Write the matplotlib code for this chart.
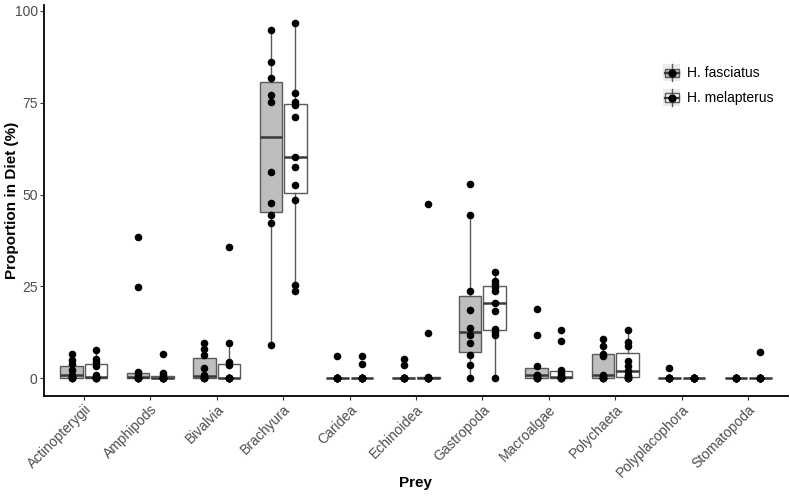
import numpy as np
import matplotlib
matplotlib.use("Agg")
import matplotlib.pyplot as plt
from matplotlib.legend_handler import HandlerBase
from matplotlib.patches import Rectangle
from matplotlib.lines import Line2D

plt.rcParams['font.family'] = ['Liberation Sans', 'DejaVu Sans']

# prey categories
prey = ["Actinopterygii", "Amphipods", "Bivalvia", "Brachyura", "Caridea",
        "Echinoidea", "Gastropoda", "Macroalgae", "Polychaeta",
        "Polyplacophora", "Stomatopoda"]

# proportion in diet (%) per individual, H. fasciatus (n=10)
fasciatus = [
    [0, 0, 0, 0.2, 0.6, 1.0, 2.2, 3.8, 4.9, 6.5],
    [0, 0, 0, 0, 0, 0.4, 1.2, 1.6, 24.9, 38.5],
    [0, 0, 0, 0.3, 0.4, 0.8, 2.9, 6.2, 7.9, 9.7],
    [9.1, 42.2, 44.4, 47.7, 56.1, 75.1, 77.0, 81.8, 86.2, 94.9],
    [0, 0, 0, 0, 0, 0, 0, 0, 0, 6.0],
    [0, 0, 0, 0, 0, 0, 0, 0, 3.5, 5.1],
    [0, 3.6, 6.4, 9.7, 11.7, 13.6, 18.7, 23.7, 44.4, 52.8],
    [0, 0, 0, 0.1, 0.6, 1.0, 1.0, 3.3, 11.9, 18.8],
    [0, 0, 0, 0, 0.6, 1.0, 6.0, 6.7, 8.9, 10.8],
    [0, 0, 0, 0, 0, 0, 0, 0, 0, 2.9],
    [0, 0, 0, 0, 0, 0, 0, 0, 0, 0],
]

# H. melapterus (n=11)
melapterus = [
    [0, 0, 0, 0, 0.2, 0.4, 1.0, 3.3, 4.3, 5.1, 7.8],
    [0, 0, 0, 0, 0, 0, 0, 0, 1.0, 1.4, 6.5],
    [0, 0, 0, 0, 0, 0, 0, 3.5, 4.4, 9.7, 35.6],
    [23.8, 25.5, 48.6, 52.5, 57.5, 60.2, 71.1, 74.4, 75.1, 77.7, 96.8],
    [0, 0, 0, 0, 0, 0, 0, 0, 0, 3.9, 6.0],
    [0, 0, 0, 0, 0, 0, 0, 0, 0.4, 12.4, 47.4],
    [0, 11.7, 12.6, 13.4, 18.4, 20.5, 23.7, 24.7, 25.7, 26.6, 28.8],
    [0, 0, 0, 0, 0.2, 0.4, 0.8, 1.5, 2.2, 10.2, 13.2],
    [0, 0, 0, 0.5, 1.0, 2.0, 3.3, 4.7, 8.8, 9.8, 13.2],
    [0, 0, 0, 0, 0, 0, 0, 0, 0, 0, 0],
    [0, 0, 0, 0, 0, 0, 0, 0, 0, 0, 7.1],
]

species = ["H. fasciatus", "H. melapterus"]
fills = ["#bebebe", "#ffffff"]
edge = "#5a5a5a"
med_col = "#3a3a3a"

fig = plt.figure(figsize=(7.9, 4.96), dpi=100)
ax = fig.add_axes([44 / 790, 100 / 496, 744 / 790, 391 / 496])

x = np.arange(1, len(prey) + 1)
offset = 0.185
bw = 0.34

for data, dx, fc in [(fasciatus, -offset, fills[0]), (melapterus, offset, fills[1])]:
    pos = x + dx
    ax.boxplot(data, positions=pos, widths=bw, patch_artist=True,
               showfliers=False, showcaps=False, whis=1.5,
               boxprops=dict(facecolor=fc, edgecolor=edge, linewidth=1.0),
               whiskerprops=dict(color=edge, linewidth=1.0),
               medianprops=dict(color=med_col, linewidth=1.8),
               manage_ticks=False, zorder=2)
    for p, vals in zip(pos, data):
        ax.scatter(np.full(len(vals), p), vals, s=30, color="black",
                   zorder=3, linewidths=0)


class BoxKey(HandlerBase):
    def create_artists(self, legend, orig_handle, xdescent, ydescent,
                       width, height, fontsize, trans):
        x0, y0 = -xdescent, -ydescent
        bg = Rectangle((x0, y0), width, height, facecolor="#ebebeb",
                       edgecolor="none", transform=trans)
        cx, cy = x0 + width / 2, y0 + height / 2
        vl = Line2D([cx, cx], [y0, y0 + height], color=edge, lw=1.0,
                    transform=trans)
        bx = Rectangle((x0 + width * 0.1, y0 + height * 0.25), width * 0.8,
                       height * 0.5, facecolor=orig_handle.get_facecolor(),
                       edgecolor=edge, lw=1.0, transform=trans)
        ml = Line2D([x0 + width * 0.1, x0 + width * 0.9], [cy, cy],
                    color=med_col, lw=1.6, transform=trans)
        dot = Line2D([cx], [cy], marker="o", markersize=5, color="black",
                     transform=trans, linestyle="none")
        return [bg, vl, bx, ml, dot]


handles = [Rectangle((0, 0), 1, 1, facecolor=f) for f in fills]
ax.legend(handles, species, handler_map={Rectangle: BoxKey()},
          loc="upper left", bbox_to_anchor=(0.832, 0.848), frameon=False,
          fontsize=10, handlelength=1.25, handleheight=1.45,
          handletextpad=0.5, labelspacing=0.6, borderaxespad=0,
          borderpad=0)

ax.set_xlim(0.4, 11.6)
ax.set_ylim(-4.84, 101.6)
ax.set_yticks([0, 25, 50, 75, 100])
ax.set_xticks(x)
ax.set_xticklabels(prey, rotation=45, ha="right", rotation_mode="anchor")
ax.tick_params(axis="both", colors="#333333", labelsize=10, length=3,
               width=0.8, labelcolor="#4d4d4d", pad=1.5)
for s in ["top", "right"]:
    ax.spines[s].set_visible(False)
for s in ["left", "bottom"]:
    ax.spines[s].set_linewidth(1.3)
    ax.spines[s].set_color("black")

ax.set_xlabel("Prey", fontsize=11, fontweight="bold")
ax.set_ylabel("Proportion in Diet (%)", fontsize=11, fontweight="bold")
ax.xaxis.set_label_coords(0.4987, -0.2225)
ax.yaxis.set_label_coords(-0.043, 0.5)
ax.xaxis.label.set_va("center")
ax.yaxis.label.set_va("center")

fig.savefig("out.png", dpi=100)
